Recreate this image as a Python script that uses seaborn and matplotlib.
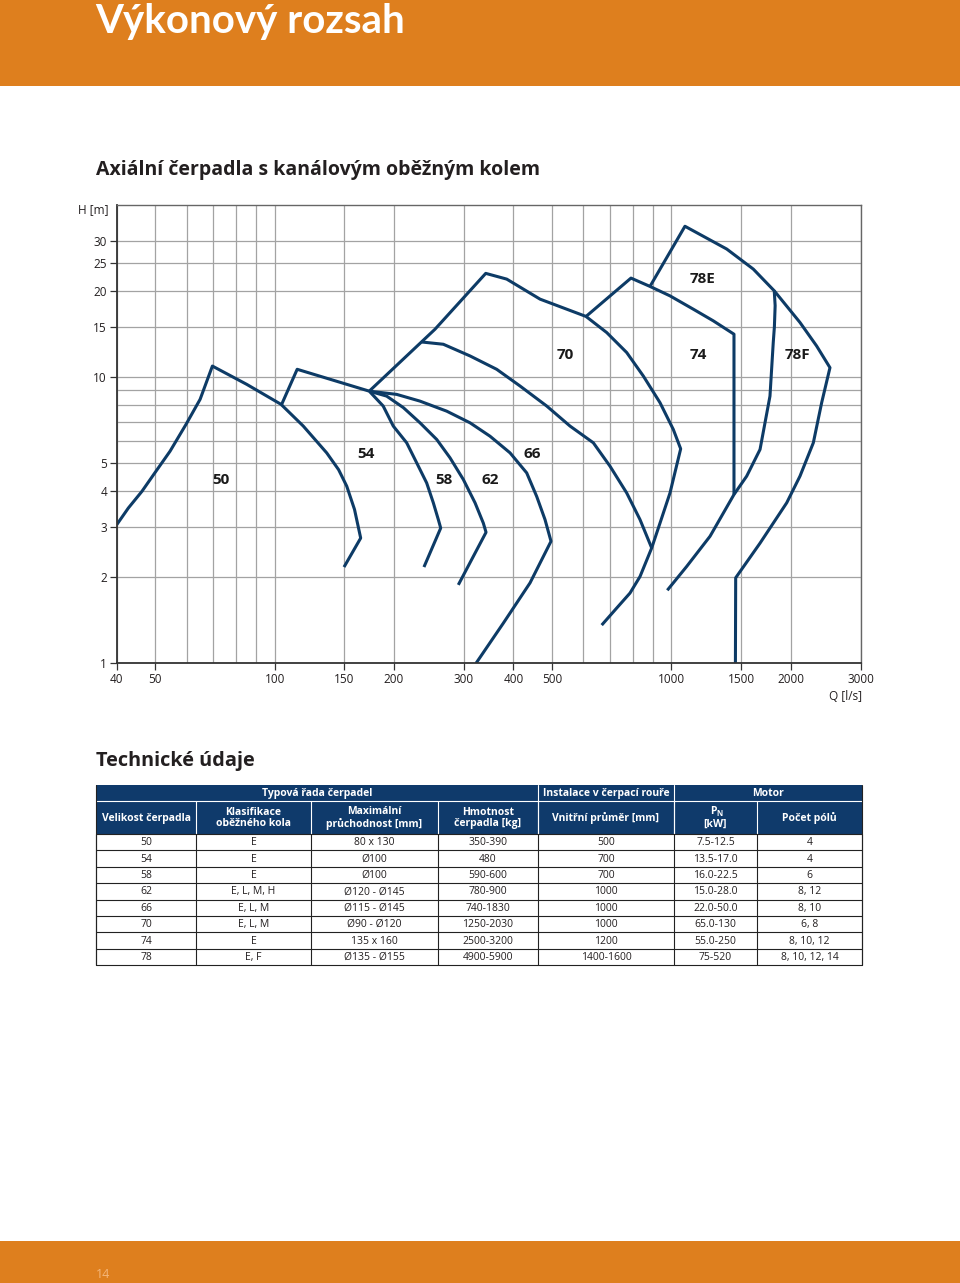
import numpy as np
import pandas as pd
import matplotlib
matplotlib.use("Agg")
import matplotlib.pyplot as plt
from matplotlib.patches import Rectangle
import seaborn as sns

# ---------------- data ----------------
curve_50_q = [40, 42.8, 46.3, 49.9, 54.5, 59.8, 64.9, 69.7, 85.1, 103.8, 118.1, 135.3, 145.0, 152.0, 159.0, 164.8, 149.6]
curve_50_h = [3.05, 3.49, 3.99, 4.63, 5.51, 6.84, 8.37, 10.94, 9.44, 8.04, 6.75, 5.44, 4.75, 4.16, 3.45, 2.74, 2.17]

curve_54_q = [104.2, 114.0, 173.2, 187.8, 199.1, 215.2, 228.1, 241.7, 251.2, 258.6, 262.2, 237.9]
curve_54_h = [8.04, 10.66, 8.94, 7.93, 6.75, 5.90, 5.02, 4.27, 3.64, 3.18, 2.97, 2.17]

curve_58_q = [173.2, 191.6, 211.1, 232.5, 256.2, 276.7, 299.0, 320.0, 335.8, 341.1, 290.4]
curve_58_h = [8.94, 8.59, 7.83, 6.93, 6.06, 5.23, 4.39, 3.64, 3.09, 2.87, 1.88]

curve_62_q = [173.2, 203.1, 232.5, 271.5, 310.8, 349.1, 392.1, 431.9, 457.7, 480.3, 497.3, 440.3, 376.9, 321.8]
curve_62_h = [8.94, 8.71, 8.25, 7.61, 6.93, 6.22, 5.44, 4.63, 3.83, 3.18, 2.67, 1.91, 1.38, 1.0]

curve_66_q = [234.8, 266.2, 310.8, 362.8, 415.4, 485.1, 555.3, 635.7, 700.1, 771.6, 833.5, 892.0]
curve_66_h = [13.28, 13.04, 11.87, 10.66, 9.32, 7.93, 6.75, 5.90, 4.89, 3.94, 3.18, 2.53]

curve_70_q = [173.2, 253.7, 340.5, 384.6, 466.6, 609.3, 687.0, 771.6, 849.6, 936.0, 1011.1, 1055.4,
              992.0, 936.0, 892.0, 833.5, 786.5, 728.1, 667.4]
curve_70_h = [8.94, 14.72, 23.07, 22.03, 18.75, 16.31, 14.33, 12.20, 10.10, 8.15, 6.57, 5.62,
              3.94, 3.09, 2.53, 2.01, 1.76, 1.56, 1.36]

curve_74_q = [609.3, 791.0, 883.3, 992.0, 1135.8, 1275.7, 1438.0, 1438.0]
curve_74_h = [16.31, 22.21, 20.77, 19.25, 17.29, 15.74, 14.14, 3.89]

curve_78e_q = [883.3, 1081.9, 1378.8, 1608.5, 1816.5, 1826, 1818, 1806, 1772, 1672.6, 1548, 1438, 1251.4, 1092.7, 976.5]
curve_78e_h = [20.77, 33.71, 28.06, 23.88, 20.05, 17.8, 15.0, 13.22, 8.59, 5.59, 4.51, 3.89, 2.78, 2.18, 1.80]

curve_78f_q = [1816.5, 2109, 2323, 2510, 2392, 2279, 2109, 1953, 1672.6, 1452.3, 1450]
curve_78f_h = [20.05, 15.54, 12.86, 10.80, 8.15, 5.90, 4.51, 3.64, 2.63, 1.99, 1.0]

curve_names = ["50", "54", "58", "62", "66", "70", "74", "78E", "78F"]
label_q = [73.3, 170, 267.2, 349, 445.5, 539.5, 1167, 1201, 2072.6]
label_h = [4.39, 5.37, 4.39, 4.39, 5.37, 11.93, 11.93, 22.03, 11.93]

x_ticks_labeled = [40, 50, 100, 150, 200, 300, 400, 500, 1000, 1500, 2000, 3000]
x_grid_extra = [60, 70, 80, 90, 600, 700, 800, 900]
y_ticks_labeled = [1, 2, 3, 4, 5, 10, 15, 20, 25, 30]
y_grid_extra = [6, 7, 8, 9]

# table data
tbl_size = ["50", "54", "58", "62", "66", "70", "74", "78"]
tbl_klasif = ["E", "E", "E", "E, L, M, H", "E, L, M", "E, L, M", "E", "E, F"]
tbl_pruchod = ["80 x 130", "Ø100", "Ø100", "Ø120 - Ø145", "Ø115 - Ø145", "Ø90 - Ø120", "135 x 160", "Ø135 - Ø155"]
tbl_hmotnost = ["350-390", "480", "590-600", "780-900", "740-1830", "1250-2030", "2500-3200", "4900-5900"]
tbl_prumer = ["500", "700", "700", "1000", "1000", "1000", "1200", "1400-1600"]
tbl_pn = ["7.5-12.5", "13.5-17.0", "16.0-22.5", "15.0-28.0", "22.0-50.0", "65.0-130", "55.0-250", "75-520"]
tbl_poly = ["4", "4", "6", "8, 12", "8, 10", "6, 8", "8, 10, 12", "8, 10, 12, 14"]

# ---------------- style ----------------
sns.set_theme(style="white")
plt.rcParams["font.family"] = ["Open Sans", "DejaVu Sans"]

ORANGE = "#DE7F1E"
NAVY = "#0d3b66"
HEAD = "#0f3a6b"
TXT = "#231f20"

W, H = 960, 1283
fig = plt.figure(figsize=(W / 100, H / 100), dpi=100)

# page axes in pixel coordinates
page = fig.add_axes([0, 0, 1, 1], zorder=0)
page.set_xlim(0, W)
page.set_ylim(H, 0)
page.axis("off")

page.add_patch(Rectangle((0, 0), W, 86, color=ORANGE, lw=0))
page.add_patch(Rectangle((0, 1241), W, 42, color=ORANGE, lw=0))
page.text(95, 33, "Výkonový rozsah", color="white", fontsize=29, fontweight="bold",
          family=["Lato", "DejaVu Sans"], va="baseline", ha="left")
page.text(96, 1274, "14", color="#f4b67a", fontsize=9, va="center", ha="left")
page.text(96, 170, "Axiální čerpadla s kanálovým oběžným kolem", color=TXT, fontsize=14,
          fontweight="bold", va="center", ha="left")
page.text(96, 761, "Technické údaje", color=TXT, fontsize=14.3, fontweight="bold", va="center", ha="left")
page.text(108, 210, "H [m]", color=TXT, fontsize=8.5, va="center", ha="right")
page.text(862, 697, "Q [l/s]", color=TXT, fontsize=8.5, va="center", ha="right")

# ---------------- chart ----------------
x0, x1, y0, y1 = 116.7, 860.7, 205.0, 663.3
ax = fig.add_axes([x0 / W, (H - y1) / H, (x1 - x0) / W, (y1 - y0) / H], zorder=2)
ax.set_xscale("log")
ax.set_yscale("log")
ax.set_xlim(40, 3000)
ax.set_ylim(1, 40)

ax.set_xticks(x_ticks_labeled)
ax.set_xticklabels([str(v) for v in x_ticks_labeled])
ax.set_xticks(x_grid_extra, minor=True)
ax.set_xticklabels([], minor=True)
ax.set_yticks(y_ticks_labeled)
ax.set_yticklabels([str(v) for v in y_ticks_labeled])
ax.set_yticks(y_grid_extra, minor=True)
ax.set_yticklabels([], minor=True)
ax.tick_params(axis="both", which="major", length=5, width=0.9, color="#333333",
               labelsize=8.5, labelcolor=TXT, pad=2, direction="out")
ax.tick_params(axis="both", which="minor", length=0)
ax.tick_params(axis="x", bottom=True)
ax.tick_params(axis="y", left=True)
ax.grid(True, which="both", color="#a3a3a3", lw=0.9)
ax.set_axisbelow(True)
for side in ["left", "bottom"]:
    ax.spines[side].set_color("#333333")
    ax.spines[side].set_linewidth(1.3)
for side in ["top", "right"]:
    ax.spines[side].set_color("#666666")
    ax.spines[side].set_linewidth(1.0)

curves = [
    (curve_50_q, curve_50_h), (curve_54_q, curve_54_h), (curve_58_q, curve_58_h),
    (curve_62_q, curve_62_h), (curve_66_q, curve_66_h), (curve_70_q, curve_70_h),
    (curve_74_q, curve_74_h), (curve_78e_q, curve_78e_h), (curve_78f_q, curve_78f_h),
]
for q, h in curves:
    df = pd.DataFrame({"Q": q, "H": h})
    sns.lineplot(data=df, x="Q", y="H", sort=False, estimator=None, color=NAVY,
                 lw=2.2, ax=ax, solid_joinstyle="round", solid_capstyle="butt")
ax.set_xlabel("")
ax.set_ylabel("")

for name, q, h in zip(curve_names, label_q, label_h):
    ax.text(q, h, name, fontsize=11, fontweight="bold", color="#1a1a1a", ha="center", va="center")

# ---------------- table ----------------
col_edges = [96, 196, 311, 438, 538, 674, 757, 862]
r1_top, r1_bot, r2_bot = 785, 801, 834
row_h = 16.4
n_rows = len(tbl_size)
t_bot = r2_bot + n_rows * row_h

page.add_patch(Rectangle((col_edges[0], r1_top), col_edges[-1] - col_edges[0], r2_bot - r1_top,
                         color=HEAD, lw=0))
page.plot([col_edges[0], col_edges[-1]], [r1_bot, r1_bot], color="white", lw=0.8)
for xe in [538, 674]:
    page.plot([xe, xe], [r1_top, r2_bot], color="white", lw=0.8)
for xe in col_edges[1:-1]:
    page.plot([xe, xe], [r1_bot, r2_bot], color="white", lw=0.8)

groups = [("Typová řada čerpadel", 96, 538), ("Instalace v čerpací rouře", 538, 674), ("Motor", 674, 862)]
for label, a, b in groups:
    page.text((a + b) / 2, (r1_top + r1_bot) / 2 + 0.5, label, color="white", fontsize=7.5,
              fontweight="bold", ha="center", va="center")

headers = ["Velikost čerpadla", "Klasifikace\noběžného kola", "Maximální\nprůchodnost [mm]",
           "Hmotnost\nčerpadla [kg]", "Vnitřní průměr [mm]", None, "Počet pólů"]
ymid2 = (r1_bot + r2_bot) / 2 + 0.5
for i, hd in enumerate(headers):
    cx = (col_edges[i] + col_edges[i + 1]) / 2
    if hd is None:
        page.text(cx - 2, ymid2 - 6, "P", color="white", fontsize=7.5, fontweight="bold",
                  ha="center", va="center")
        page.text(cx + 4, ymid2 - 4, "N", color="white", fontsize=5.5, fontweight="bold",
                  ha="center", va="center")
        page.text(cx, ymid2 + 6, "[kW]", color="white", fontsize=7.5, fontweight="bold",
                  ha="center", va="center")
    else:
        page.text(cx, ymid2, hd, color="white", fontsize=7.5, fontweight="bold",
                  ha="center", va="center", linespacing=1.0)

columns = [tbl_size, tbl_klasif, tbl_pruchod, tbl_hmotnost, tbl_prumer, tbl_pn, tbl_poly]
for r in range(n_rows):
    yc = r2_bot + (r + 0.5) * row_h
    for c, col in enumerate(columns):
        cx = (col_edges[c] + col_edges[c + 1]) / 2
        page.text(cx, yc + 0.5, col[r], color=TXT, fontsize=7.5, ha="center", va="center")
for r in range(n_rows + 1):
    yy = r2_bot + r * row_h
    page.plot([col_edges[0], col_edges[-1]], [yy, yy], color="#222222", lw=0.8)
for xe in col_edges:
    page.plot([xe, xe], [r2_bot, t_bot], color="#222222", lw=0.8)
page.plot([col_edges[0], col_edges[0]], [r1_top, t_bot], color="#222222", lw=0.8)
page.plot([col_edges[-1], col_edges[-1]], [r1_top, t_bot], color="#222222", lw=0.8)

fig.savefig("out.png", dpi=100)
